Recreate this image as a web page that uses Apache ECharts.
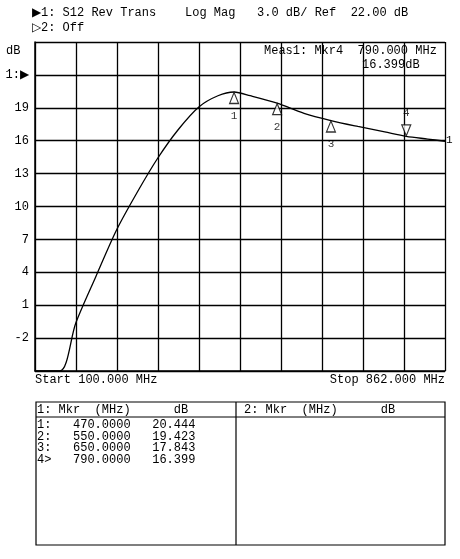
<!DOCTYPE html>
<html><head><meta charset="utf-8">
<script src="https://cdn.jsdelivr.net/npm/echarts@6/dist/echarts.min.js"></script>
<style>html,body{margin:0;padding:0;background:#fff}#c{width:460px;height:559px}</style>
</head><body><div id="c"></div>
<script>
const freqs = [100, 146, 176, 213, 252, 290, 328, 366, 405, 440, 470, 500, 550, 600, 650, 700, 750, 790, 830, 862];
const dbVals = [-5, -5, -0.6, 3.6, 7.9, 11.3, 14.4, 17.0, 19.1, 20.1, 20.44, 20.1, 19.42, 18.5, 17.84, 17.3, 16.8, 16.4, 16.15, 15.95];
const mkrIds = ['1', '2', '3', '4'];
const mkrFreqs = [470, 550, 650, 790];
const mkrDb = [20.444, 19.423, 17.843, 16.399];
const yMin = -5, yMax = 25, yStep = 3;
const F = 'Liberation Mono';
const chart = echarts.init(document.getElementById('c'));
const sh = v => v - yMin;
const upIdx = [0,1,2];
chart.setOption({
  animation: false,
  grid: {left: 35, right: 15, top: 42, bottom: 188},
  xAxis: {type: 'value', min: 100, max: 862, interval: 76.2,
    axisLine: {show: true, lineStyle: {color: '#000', width: 1.5}},
    axisTick: {show: false}, axisLabel: {show: false},
    splitLine: {show: true, lineStyle: {color: '#000', width: 1.3}}},
  yAxis: {type: 'value', min: 0, max: yMax - yMin, interval: yStep,
    axisLine: {show: true, lineStyle: {color: '#000', width: 1.5}},
    axisTick: {show: false},
    axisLabel: {color: '#000', fontFamily: F, fontSize: 12, margin: 6,
      formatter: s => { const v = Math.round(s + yMin); return v === 22 ? '1:▶' : (v === 25 || v === -5) ? '' : String(v); }},
    splitLine: {show: true, lineStyle: {color: '#000', width: 1.3}}},
  graphic: [
    {type: 'text', left: 32, top: 7, style: {text: '▶1: S12 Rev Trans    Log Mag   3.0 dB/ Ref  22.00 dB', font: '12px ' + F, fill: '#000'}},
    {type: 'text', left: 32, top: 22, style: {text: '▷2: Off', font: '12px ' + F, fill: '#000'}},
    {type: 'text', left: 6, top: 45, style: {text: 'dB', font: '12px ' + F, fill: '#000'}},
    {type: 'text', left: 264, top: 45, style: {text: 'Meas1: Mkr4  790.000 MHz', font: '12px ' + F, fill: '#000', backgroundColor: '#fff'}},
    {type: 'text', left: 362, top: 59, style: {text: '16.399dB', font: '12px ' + F, fill: '#000', backgroundColor: '#fff'}},
    {type: 'text', left: 35, top: 374, style: {text: 'Start 100.000 MHz', font: '12px ' + F, fill: '#000'}},
    {type: 'text', right: 15, top: 374, style: {text: 'Stop 862.000 MHz', font: '12px ' + F, fill: '#000'}},
    {type: 'text', left: 446, top: 135, style: {text: '1', font: '11px ' + F, fill: '#000'}},
    {type: 'rect', shape: {x: 36, y: 402, width: 409, height: 143}, style: {fill: 'none', stroke: '#000', lineWidth: 1.2}},
    {type: 'line', shape: {x1: 236, y1: 402, x2: 236, y2: 545}, style: {stroke: '#000', lineWidth: 1.2}},
    {type: 'line', shape: {x1: 36, y1: 417, x2: 445, y2: 417}, style: {stroke: '#000', lineWidth: 1}},
    {type: 'text', left: 37, top: 404, style: {text: '1: Mkr  (MHz)      dB', font: '12px ' + F, fill: '#000'}},
    {type: 'text', left: 244, top: 404, style: {text: '2: Mkr  (MHz)      dB', font: '12px ' + F, fill: '#000'}},
    {type: 'text', left: 37, top: 419, style: {
      text: mkrIds.map((id, i) => (i === 3 ? id + '>' : id + ':') + '   ' + mkrFreqs[i].toFixed(4) + '   ' + mkrDb[i].toFixed(3)).join('\n'),
      font: '12px ' + F, lineHeight: 11.5, fill: '#000'}}
  ],
  series: [
    {type: 'line', smooth: 0.3, symbol: 'none', data: freqs.map((f, i) => [f, sh(dbVals[i])]),
      lineStyle: {color: '#000', width: 1.3}},
    {type: 'scatter', symbol: 'triangle', symbolSize: [9, 11], symbolOffset: [0, 6],
      itemStyle: {color: '#fff', borderColor: '#000', borderWidth: 1.2},
      label: {show: true, position: 'bottom', distance: 6, formatter: p => mkrIds[p.dataIndex], color: '#000', fontFamily: F, fontSize: 11},
      data: upIdx.map(i => [mkrFreqs[i], sh(mkrDb[i])]), z: 5},
    {type: 'scatter', symbol: 'triangle', symbolRotate: 180, symbolSize: [9, 11], symbolOffset: [0, -6],
      itemStyle: {color: '#fff', borderColor: '#000', borderWidth: 1.2},
      label: {show: true, position: 'top', distance: 6, formatter: () => mkrIds[3], color: '#000', fontFamily: F, fontSize: 11},
      data: [[mkrFreqs[3], sh(mkrDb[3])]], z: 5}
  ]
});
</script></body></html>
